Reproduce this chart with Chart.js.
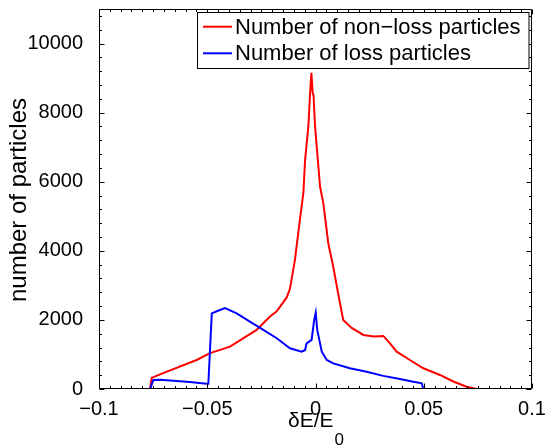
<!DOCTYPE html>
<html>
<head>
<meta charset="utf-8">
<script src="https://cdn.jsdelivr.net/npm/chart.js@4/dist/chart.umd.min.js"></script>
<style>
  html, body { margin: 0; padding: 0; background: #ffffff; }
  #wrap { width: 547px; height: 446px; }
</style>
</head>
<body>
<div id="wrap"><canvas id="c" width="547" height="446"></canvas></div>
<script>
// Energy deviation distribution of tracked particles.
// Non-loss particles: energy deviation (dE/E0) and count per bin
const nonLossDE = [-0.0836, -0.0764, -0.0757, -0.0704, -0.0549, -0.0487, -0.0395, -0.0272, -0.0210, -0.0179,
  -0.0133, -0.0118, -0.0095, -0.0072, -0.0056, -0.0048, -0.0033, -0.0025, -0.0019, -0.0013,
  -0.0009, -0.0002, 0.0021, 0.0036, 0.0059, 0.0082, 0.0105, 0.0128, 0.0167, 0.0221,
  0.0270, 0.0313, 0.0344, 0.0375, 0.0436, 0.0498, 0.0575, 0.0639, 0.0698, 0.0745, 0.0837];
const nonLossCount = [0, 0, 320, 460, 840, 1040, 1225, 1710, 2100, 2250,
  2650, 2900, 3740, 4900, 5680, 6640, 7600, 8570, 9150, 8570,
  8500, 7600, 5860, 5380, 4220, 3540, 2750, 2000, 1770, 1565,
  1520, 1536, 1320, 1080, 840, 600, 406, 210, 67, 0, 0];

// Loss particles: energy deviation (dE/E0) and count per bin
const lossDE = [-0.0836, -0.0764, -0.0749, -0.0718, -0.0580, -0.0503, -0.0495, -0.0479, -0.0456, -0.0418,
  -0.0364, -0.0303, -0.0241, -0.0179, -0.0118, -0.0064, -0.0048, -0.0041, -0.0018, -0.0006,
  0.0001, 0.0008, 0.0029, 0.0052, 0.0082, 0.0159, 0.0236, 0.0313, 0.0390, 0.0452,
  0.0491, 0.0498, 0.0837];
const lossCount = [0, 0, 260, 270, 200, 150, 150, 2190, 2250, 2340,
  2190, 1950, 1710, 1470, 1180, 1080, 1130, 1320, 1420, 2000,
  2210, 1710, 1080, 840, 740, 600, 500, 380, 290, 210,
  165, 0, 0];

const seriesNames = ['Number of non\u2212loss particles', 'Number of loss particles'];
const seriesColors = ['#ff0000', '#0000ff'];

// Axis ticks
const xTickValues = [-0.1, -0.05, 0, 0.05, 0.1];
const xTickLabels = ['\u22120.1', '\u22120.05', '0', '0.05', '0.1'];
const yTickValues = [0, 2000, 4000, 6000, 8000, 10000];
const yTickLabels = ['0', '2000', '4000', '6000', '8000', '10000'];
const xMinorStep = 0.005;
const yMinorStep = 400;

const FONT = 'Liberation Sans, Arial, Helvetica, sans-serif';

function toPoints(xs, ys) {
  return xs.map((x, i) => ({ x: x, y: ys[i] }));
}

// Box, inward ticks, axis titles and legend drawn over the plot
const decorations = {
  id: 'decorations',
  afterDraw(chart) {
    const ctx = chart.ctx;
    const a = chart.chartArea;
    const xs = chart.scales.x, ys = chart.scales.y;
    ctx.save();
    ctx.setLineDash([]);
    ctx.strokeStyle = '#000000';
    ctx.lineWidth = 1;
    const L = Math.round(a.left) + 0.5, R = Math.round(a.right) - 0.5;
    const T = Math.round(a.top) + 0.5, B = Math.round(a.bottom) - 0.5;

    ctx.beginPath();
    ctx.moveTo(L, T); ctx.lineTo(R, T); ctx.lineTo(R, B); ctx.lineTo(L, B); ctx.closePath();
    // x ticks (bottom and top)
    const nx = Math.round((xs.max - xs.min) / xMinorStep);
    for (let i = 0; i <= nx; i++) {
      const v = xs.min + i * xMinorStep;
      const px = Math.round(xs.getPixelForValue(v)) + 0.5;
      const major = xTickValues.some(t => Math.abs(t - v) < 1e-9);
      const len = major ? 5 : 2.5;
      ctx.moveTo(px, B); ctx.lineTo(px, B - len);
      ctx.moveTo(px, T); ctx.lineTo(px, T + len);
    }
    // y ticks (left and right)
    for (let v = 0; v <= ys.max + 1e-6; v += yMinorStep) {
      const py = Math.round(ys.getPixelForValue(v)) + 0.5;
      const major = yTickValues.includes(v);
      const len = major ? 5 : 2.5;
      ctx.moveTo(L, py); ctx.lineTo(L + len, py);
      ctx.moveTo(R, py); ctx.lineTo(R - len, py);
    }
    ctx.stroke();

    // y axis title
    ctx.fillStyle = '#000000';
    ctx.save();
    ctx.translate(19, 200);
    ctx.rotate(-Math.PI / 2);
    ctx.font = '24px ' + FONT;
    ctx.textAlign = 'center';
    ctx.textBaseline = 'middle';
    ctx.fillText('number of particles', 0, 0);
    ctx.restore();

    // x axis title with subscript
    ctx.font = '21px ' + FONT;
    const mainTxt = '\u03b4E/E';
    const wMain = ctx.measureText(mainTxt).width;
    ctx.font = '17px ' + FONT;
    const wSub = ctx.measureText('0').width;
    const cx = xs.getPixelForValue(0);
    const x0 = cx - (wMain + wSub) / 2;
    ctx.textAlign = 'left';
    ctx.textBaseline = 'alphabetic';
    ctx.font = '21px ' + FONT;
    ctx.fillText(mainTxt, x0, 427);
    ctx.font = '17px ' + FONT;
    ctx.fillText('0', x0 + wMain + 1, 445);

    // legend
    const bx = 197.5, by = 12.5, bw = 331.5, bh = 56;
    ctx.fillStyle = '#ffffff';
    ctx.fillRect(bx, by, bw, bh);
    ctx.strokeStyle = '#000000';
    ctx.lineWidth = 1;
    ctx.strokeRect(bx, by, bw, bh);
    const rows = [26.7, 53.3];
    ctx.font = '22px ' + FONT;
    ctx.textBaseline = 'middle';
    seriesNames.forEach((name, i) => {
      ctx.strokeStyle = seriesColors[i];
      ctx.lineWidth = 2;
      ctx.beginPath();
      ctx.moveTo(203, rows[i]);
      ctx.lineTo(232, rows[i]);
      ctx.stroke();
      ctx.fillStyle = '#000000';
      ctx.fillText(name, 235, rows[i] + 1);
    });
    ctx.restore();
  }
};

new Chart(document.getElementById('c'), {
  type: 'line',
  data: {
    datasets: [
      {
        label: seriesNames[0],
        data: toPoints(nonLossDE, nonLossCount),
        borderColor: seriesColors[0],
        borderWidth: 2,
        pointRadius: 0,
        tension: 0,
        fill: false,
        order: 1
      },
      {
        label: seriesNames[1],
        data: toPoints(lossDE, lossCount),
        borderColor: seriesColors[1],
        borderWidth: 2,
        pointRadius: 0,
        tension: 0,
        fill: false,
        order: 0
      }
    ]
  },
  options: {
    responsive: false,
    animation: false,
    devicePixelRatio: 1,
    layout: { padding: { top: 9, right: 15, left: 0, bottom: 0 } },
    plugins: { legend: { display: false }, tooltip: { enabled: false } },
    scales: {
      x: {
        type: 'linear',
        min: -0.1,
        max: 0.1,
        grid: { display: false },
        border: { display: false },
        afterBuildTicks(scale) { scale.ticks = xTickValues.map(v => ({ value: v })); },
        afterFit(scale) {
          scale.height = 57;
          scale.paddingLeft = 0; scale.paddingRight = 0;
          scale.paddingTop = 0; scale.paddingBottom = 0;
        },
        ticks: {
          color: '#000000',
          font: { family: FONT, size: 20 },
          padding: 0,
          maxRotation: 0,
          autoSkip: false,
          callback(value) {
            const i = xTickValues.findIndex(t => Math.abs(t - value) < 1e-9);
            return i >= 0 ? xTickLabels[i] : '';
          }
        }
      },
      y: {
        type: 'linear',
        min: 0,
        max: 11000,
        grid: { display: false },
        border: { display: false },
        afterBuildTicks(scale) { scale.ticks = yTickValues.map(v => ({ value: v })); },
        afterFit(scale) {
          scale.width = 99;
          scale.paddingLeft = 0; scale.paddingRight = 0;
          scale.paddingTop = 0; scale.paddingBottom = 0;
        },
        ticks: {
          color: '#000000',
          font: { family: FONT, size: 20 },
          padding: 8,
          autoSkip: false,
          callback(value) {
            const i = yTickValues.indexOf(value);
            return i >= 0 ? yTickLabels[i] : '';
          }
        }
      }
    }
  },
  plugins: [decorations]
});
</script>
</body>
</html>
